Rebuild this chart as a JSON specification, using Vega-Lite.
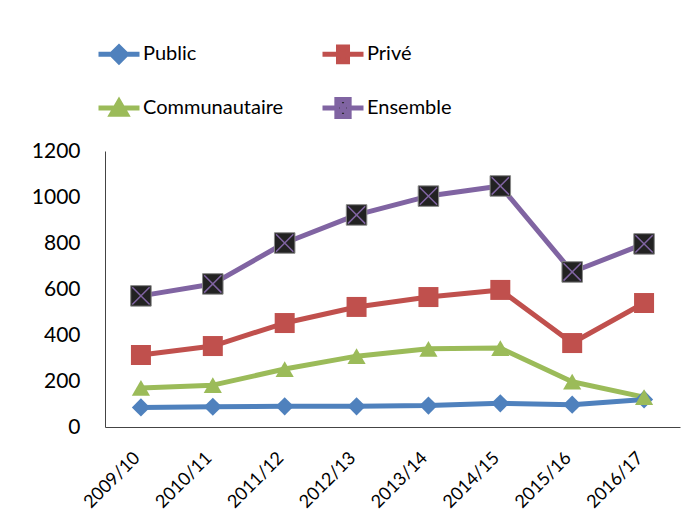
{
  "$schema": "https://vega.github.io/schema/vega-lite/v6.json",
  "width": 575,
  "height": 276,
  "autosize": {"type": "none"},
  "padding": {"left": 105, "top": 151, "right": 20, "bottom": 100},
  "background": "white",
  "config": {
    "font": "Lato",
    "view": {"stroke": null},
    "axis": {"labelFont": "Lato", "labelColor": "#000", "domainColor": "#444", "grid": false, "ticks": false, "tickSize": 0, "title": null},
    "legend": {
      "orient": "none", "legendX": -9, "legendY": -120, "direction": "horizontal", "columns": 2,
      "columnPadding": 28, "rowPadding": 13, "padding": 0,
      "symbolSize": 1681, "symbolStrokeWidth": 5, "symbolOpacity": 1,
      "labelFontSize": 20, "labelFont": "Lato", "labelColor": "#000", "labelOffset": 1, "labelLimit": 300
    }
  },
  "data": {
    "values": [
      {"year": "2009/10", "series": "Public", "value": 85},
      {"year": "2010/11", "series": "Public", "value": 88},
      {"year": "2011/12", "series": "Public", "value": 90},
      {"year": "2012/13", "series": "Public", "value": 90},
      {"year": "2013/14", "series": "Public", "value": 93},
      {"year": "2014/15", "series": "Public", "value": 103},
      {"year": "2015/16", "series": "Public", "value": 97},
      {"year": "2016/17", "series": "Public", "value": 120},
      {"year": "2009/10", "series": "Privé", "value": 313},
      {"year": "2010/11", "series": "Privé", "value": 352},
      {"year": "2011/12", "series": "Privé", "value": 452},
      {"year": "2012/13", "series": "Privé", "value": 522},
      {"year": "2013/14", "series": "Privé", "value": 565},
      {"year": "2014/15", "series": "Privé", "value": 596},
      {"year": "2015/16", "series": "Privé", "value": 365},
      {"year": "2016/17", "series": "Privé", "value": 539},
      {"year": "2009/10", "series": "Communautaire", "value": 170},
      {"year": "2010/11", "series": "Communautaire", "value": 182},
      {"year": "2011/12", "series": "Communautaire", "value": 252},
      {"year": "2012/13", "series": "Communautaire", "value": 308},
      {"year": "2013/14", "series": "Communautaire", "value": 340},
      {"year": "2014/15", "series": "Communautaire", "value": 343},
      {"year": "2015/16", "series": "Communautaire", "value": 197},
      {"year": "2016/17", "series": "Communautaire", "value": 130},
      {"year": "2009/10", "series": "Ensemble", "value": 570},
      {"year": "2010/11", "series": "Ensemble", "value": 622},
      {"year": "2011/12", "series": "Ensemble", "value": 800},
      {"year": "2012/13", "series": "Ensemble", "value": 922},
      {"year": "2013/14", "series": "Ensemble", "value": 1004},
      {"year": "2014/15", "series": "Ensemble", "value": 1048},
      {"year": "2015/16", "series": "Ensemble", "value": 674},
      {"year": "2016/17", "series": "Ensemble", "value": 796}
    ]
  },
  "encoding": {
    "x": {
      "field": "year", "type": "ordinal",
      "scale": {"type": "point", "padding": 0.5},
      "axis": {"labelAngle": -45, "labelAlign": "right", "labelBaseline": "middle", "labelFontSize": 18, "labelPadding": 28, "labelOffset": -4}
    },
    "y": {
      "field": "value", "type": "quantitative",
      "scale": {"domain": [0, 1200], "nice": false},
      "axis": {"values": [0, 200, 400, 600, 800, 1000, 1200], "format": "d", "labelFontSize": 21, "labelPadding": 25}
    }
  },
  "layer": [
    {
      "mark": {"type": "line", "strokeWidth": 5, "strokeCap": "round", "strokeJoin": "round"},
      "encoding": {
        "stroke": {
          "field": "series", "type": "nominal",
          "scale": {"domain": ["Public", "Privé", "Communautaire", "Ensemble"], "range": ["#4F81BD", "#C0504D", "#9BBB59", "#8064A2"]},
          "title": null
        },
        "detail": {"field": "series"}
      }
    },
    {
      "transform": [{"filter": "datum.series === 'Public'"}],
      "mark": {"type": "point", "shape": "diamond", "size": 330, "filled": true, "fill": "#4F81BD", "opacity": 1}
    },
    {
      "transform": [{"filter": "datum.series === 'Privé'"}],
      "mark": {"type": "point", "shape": "square", "size": 400, "filled": true, "fill": "#C0504D", "opacity": 1}
    },
    {
      "transform": [{"filter": "datum.series === 'Communautaire'"}],
      "mark": {"type": "point", "shape": "triangle-up", "size": 330, "filled": true, "fill": "#9BBB59", "opacity": 1}
    },
    {
      "transform": [{"filter": "datum.series === 'Ensemble'"}],
      "mark": {"type": "point", "shape": "square", "size": 420, "filled": true, "fill": "#222222", "stroke": "#888888", "strokeWidth": 1, "opacity": 1}
    },
    {
      "transform": [{"filter": "datum.series === 'Ensemble'"}],
      "mark": {"type": "point", "shape": "M-1,-1L1,1M-1,1L1,-1", "size": 300, "filled": false, "stroke": "#8064A2", "strokeWidth": 1.5, "opacity": 1}
    },
    {
      "mark": {"type": "point", "filled": true, "opacity": 0},
      "encoding": {
        "shape": {
          "field": "series", "type": "nominal",
          "scale": {"domain": ["Public", "Privé", "Communautaire", "Ensemble"], "range": [
            "M-1,0H1M0,-0.36L0.36,0L0,0.36L-0.36,0Z",
            "M-1,0H1M-0.22,-0.36H0.22V0.36H-0.22Z",
            "M-1,0H1M0,-0.32L0.36,0.3H-0.36Z",
            "M-1,0H-0.3M0.3,0H1M-0.3,-0.42H0.3V0.42H-0.3ZM-0.3,-0.42L0.3,0.42M-0.3,0.42L0.3,-0.42"
          ]},
          "title": null
        },
        "fill": {
          "field": "series", "type": "nominal",
          "scale": {"domain": ["Public", "Privé", "Communautaire", "Ensemble"], "range": ["#4F81BD", "#C0504D", "#9BBB59", "#222222"]},
          "title": null
        },
        "stroke": {
          "field": "series", "type": "nominal",
          "title": null
        }
      }
    }
  ]
}
